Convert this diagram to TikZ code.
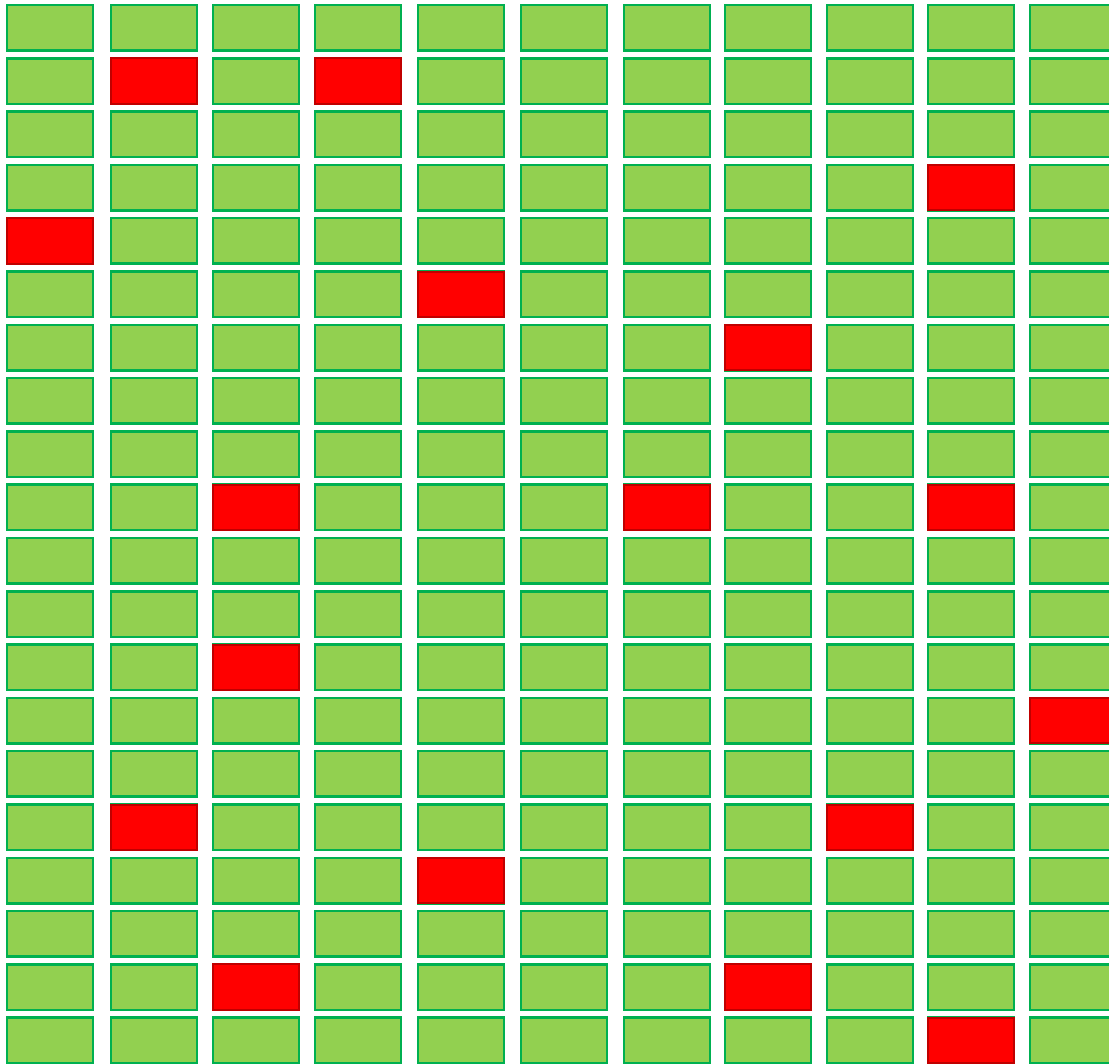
\documentclass[tikz,border=0pt]{standalone}
\definecolor{cellgreen}{HTML}{92D050}
\definecolor{cellgreenline}{HTML}{00B050}
\definecolor{cellred}{HTML}{FF0000}
\definecolor{cellredline}{HTML}{C00000}
\begin{document}
\begin{tikzpicture}[x=0.75pt,y=-0.75pt,
  okcell/.style={fill=cellgreen,draw=cellgreenline,line width=1.9pt},
  badcell/.style={fill=cellred,draw=cellredline,line width=1.5pt}]
\useasboundingbox (0,0) rectangle (1109,1063);
\clip (0,0) rectangle (1109,1063);
\def\colx{{7,111,213,315,418,521,624,725,827,928,1030}}
\foreach \c in {0,...,10}{
  \foreach \r in {0,...,19}{
    \pgfmathsetmacro{\xx}{\colx[\c]}
    \pgfmathsetmacro{\yy}{5+53.3*\r}
    \draw[okcell] (\xx,\yy) rectangle ++(86,45.5);
  }
}
\foreach \c/\r in {1/1,3/1,9/3,0/4,4/5,7/6,2/9,6/9,9/9,2/12,10/13,1/15,8/15,4/16,2/18,7/18,9/19}{
  \pgfmathsetmacro{\xx}{\colx[\c]}
  \pgfmathsetmacro{\yy}{5+53.3*\r}
  \draw[badcell] (\xx,\yy) rectangle ++(86,45.5);
}
\end{tikzpicture}
\end{document}
